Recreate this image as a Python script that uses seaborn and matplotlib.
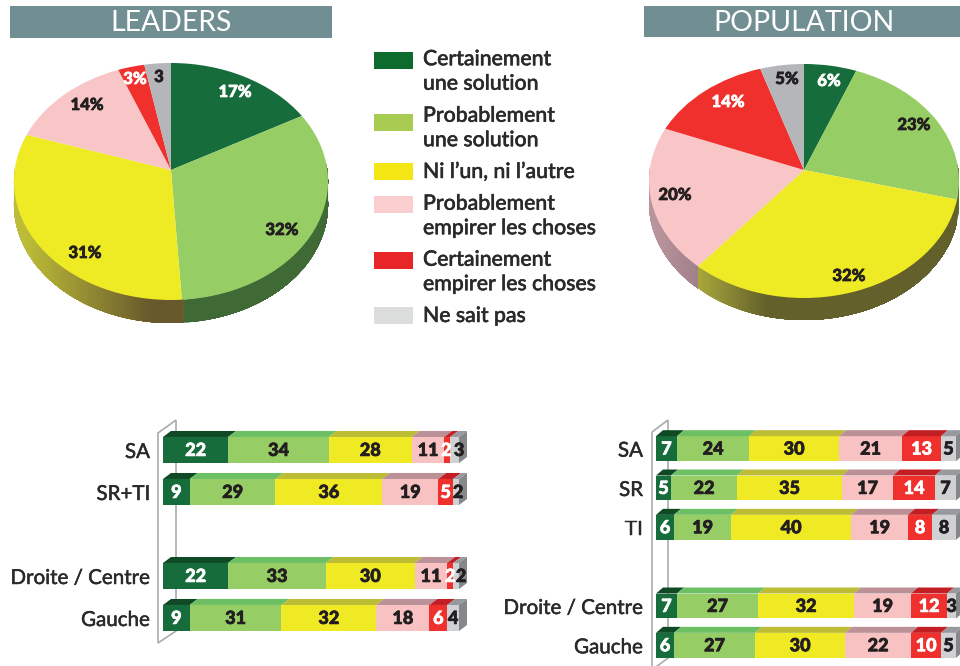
import matplotlib
matplotlib.use("Agg")
import numpy as np
import pandas as pd
import matplotlib.pyplot as plt
import seaborn as sns
import matplotlib.patheffects as pe
from matplotlib.patches import Polygon, Rectangle
from matplotlib.transforms import Transform
from matplotlib.colors import to_rgb

# Data
reponses = ["Certainement\nune solution", "Probablement\nune solution", "Ni l’un, ni l’autre",
            "Probablement\nempirer les choses", "Certainement\nempirer les choses", "Ne sait pas"]

pie_leaders = [17, 32, 31, 14, 3, 3]
pie_leaders_labels = ["17%", "32%", "31%", "14%", "3%", "3"]
pie_population = [6, 23, 32, 20, 14, 5]
pie_population_labels = ["6%", "23%", "32%", "20%", "14%", "5%"]

leaders_rows = ["SA", "SR+TI", "", "Droite / Centre", "Gauche"]
leaders_sa = [22, 34, 28, 11, 2, 3]
leaders_sr_ti = [9, 29, 36, 19, 5, 2]
leaders_droite = [22, 33, 30, 11, 2, 2]
leaders_gauche = [9, 31, 32, 18, 6, 4]

population_rows = ["SA", "SR", "TI", "", "Droite / Centre", "Gauche"]
population_sa = [7, 24, 30, 21, 13, 5]
population_sr = [5, 22, 35, 17, 14, 7]
population_ti = [6, 19, 40, 19, 8, 8]
population_droite = [7, 27, 32, 19, 12, 3]
population_gauche = [6, 27, 30, 22, 10, 5]

# Couleurs
front = ["#166c3a", "#96cd65", "#efea24", "#f9c2c2", "#f0302c", "#cfd1d3"]
top = ["#0f4a25", "#6dbf64", "#bcbd34", "#bb9097", "#c41e25", "#97999d"]
pie_colors = ["#166c3a", "#96cd65", "#eeea24", "#f9c6c8", "#f0302c", "#b4b6ba"]
legend_colors = ["#0d6b2d", "#a8cb52", "#f4e613", "#facdcf", "#e82628", "#dcdedd"]
text_colors = ["white", "#231f20", "#231f20", "#231f20", "white", "#231f20"]
ink = "#2a2a2c"
header = "#718f92"

sns.set_theme(style="white")
plt.rcParams['font.family'] = ['Lato', 'DejaVu Sans']

fig = plt.figure(figsize=(9.6, 6.66), dpi=100)
bg = fig.add_axes([0, 0, 1, 1])


def thick(col, w=0.35):
    # le texte de reference est plus gras que Lato
    return [pe.withStroke(linewidth=w, foreground=col)]


class Persp(Transform):
    # disque vu en perspective, le centre du camembert n'est pas celui de l'ellipse
    input_dims = 2
    output_dims = 2

    def __init__(self, cx, cy, r, up, down):
        super().__init__()
        self.cx, self.cy, self.r = cx, cy, r
        self.k = (down - up) / (down + up)
        self.s = up * (1 + self.k)

    def transform_non_affine(self, pts):
        pts = np.asarray(pts, dtype=float)
        w = 1 + self.k * pts[:, 1]
        return np.column_stack([self.cx + self.r * pts[:, 0] / w,
                                self.cy - self.s * pts[:, 1] / w])


def draw_pie(values, labels, label_pos, cx, cy, r, up, down, depth, walls):
    wedges, _ = bg.pie(values, colors=pie_colors, startangle=90, counterclock=False,
                       wedgeprops={"linewidth": 0})
    persp = Persp(cx, cy, r, up, down)
    # flanc du camembert, chaque bande recouvre la suite pour eviter les joints
    for wedge, wall in zip(wedges, walls):
        light, dark, x0, x1 = wall
        light, dark = np.array(to_rgb(light)), np.array(to_rgb(dark))
        angles = np.radians(np.arange(wedge.theta1, wedge.theta2 + 0.5, 1.0))
        angles = angles[np.sin(angles) <= 0.05]
        if len(angles) < 2:
            continue
        rim = persp.transform_non_affine(np.column_stack([np.cos(angles), np.sin(angles)]))
        for j in range(len(rim) - 1):
            t = np.clip((rim[j, 0] - x0) / (x1 - x0), 0, 1)
            c = light + (dark - light) * t
            part = rim[j:]
            bg.fill(np.r_[part[:, 0], part[::-1, 0]], np.r_[part[:, 1], part[::-1, 1] + depth],
                    color=c, linewidth=0, zorder=1)
    for wedge in wedges:
        wedge.set_transform(persp + bg.transData)
        wedge.set_zorder(2)
    for lab, pos, col in zip(labels, label_pos, text_colors):
        bg.text(pos[0], pos[1], lab, color=col, fontsize=12, fontweight="black",
                ha="center", va="center", zorder=3, path_effects=thick(col, 0.5))


draw_pie(pie_leaders, pie_leaders_labels,
         [(235, 92), (282, 230), (85, 253), (87, 105), (135, 79), (159, 77)],
         171, 170, 156.3, 107, 130, 23,
         [("#3f6a35", "#3f6a35", 0, 1), ("#3f6a35", "#3f6a35", 0, 1), ("#bdbc38", "#67592c", 25, 150),
          ("#b48f97", "#b48f97", 0, 1), ("#c41e25", "#c41e25", 0, 1), ("#97999d", "#97999d", 0, 1)])
draw_pie(pie_population, pie_population_labels,
         [(829, 81), (914, 125), (849, 276), (675, 195), (728, 102), (787, 79)],
         804, 170, 154.3, 106, 128, 22,
         [("#3f6a35", "#3f6a35", 0, 1), ("#5f6a30", "#5f6a30", 0, 1), ("#a8a73a", "#63602c", 698, 765),
          ("#b9949c", "#a07f88", 655, 700), ("#c41e25", "#c41e25", 0, 1), ("#97999d", "#97999d", 0, 1)])

bg.set_aspect("auto")
bg.set_xlim(0, 960)
bg.set_ylim(666, 0)
bg.set_axis_off()

# Bandeaux
bg.add_patch(Rectangle((10, 6), 322, 32, color=header, linewidth=0, zorder=1))
bg.add_patch(Rectangle((644, 6), 316, 31, color=header, linewidth=0, zorder=1))
bg.text(171, 23, "LEADERS", color="white", fontsize=20.4, ha="center", va="center", zorder=3)
bg.text(804, 23, "POPULATION", color="white", fontsize=20.4, ha="center", va="center", zorder=3)

# Legende
swatch_top = [52, 114, 163, 196, 252, 307]
legend_y = [71.5, 128, 172, 216, 272, 316]
for lab, col, st, ly in zip(reponses, legend_colors, swatch_top, legend_y):
    bg.add_patch(Rectangle((374, st), 39, 17, color=col, linewidth=0, zorder=1))
    bg.text(423, ly, lab, color=ink, fontsize=15.3, fontweight="medium", ha="left", va="center",
            linespacing=1.28, zorder=3, path_effects=thick(ink))

# Paroi grise derriere les barres
bg.add_patch(Polygon([(158, 433), (176, 420), (176, 631), (158, 643)], closed=True, fill=False,
                     edgecolor="#a9abae", linewidth=1.2, zorder=1))
bg.add_patch(Polygon([(652, 432), (668, 420), (668, 658), (652, 670)], closed=True, fill=False,
                     edgecolor="#a9abae", linewidth=1.2, zorder=1))


def draw_bars(rect, rows, table, bar_h, dx_px, nudge):
    ax = fig.add_axes(rect, zorder=2)
    ax.patch.set_visible(False)
    used = [r for r in rows if r != ""]
    df = pd.DataFrame(table, index=used)
    cum = df.cumsum(axis=1)
    cum.columns = [f"c{i}" for i in range(6)]
    cum["groupe"] = used
    # barres cumulees, de la plus longue a la plus courte
    for i in reversed(range(6)):
        sns.barplot(data=cum, x=f"c{i}", y="groupe", order=rows, color=front[i], saturation=1,
                    width=bar_h, linewidth=0, errorbar=None, ax=ax)
    ax.set_xlim(0, 100)
    ax.set_ylim(len(rows) - 0.5, -0.5)
    ax.set_xlabel("")
    ax.set_ylabel("")
    ax.set_xticks([])
    ax.tick_params(axis="y", length=0, pad=9.5, labelsize=14.8, labelcolor=ink)
    for t in ax.get_yticklabels():
        t.set_path_effects(thick(ink))
    sns.despine(ax=ax, left=True, bottom=True)

    px_x = rect[2] * 960 / 100
    px_y = rect[3] * 666 / len(rows)
    dx = dx_px / px_x
    dy = 6 / px_y
    for name in used:
        r = rows.index(name)
        start = 0
        vals = df.loc[name].values
        for i, v in enumerate(vals):
            y0 = r - bar_h / 2
            ax.add_patch(Polygon([(start, y0), (start + dx, y0 - dy), (start + v + dx, y0 - dy), (start + v, y0)],
                                 closed=True, facecolor=top[i], linewidth=0, clip_on=False, zorder=3))
            off = nudge.get((name, i), 0) / px_x
            ax.text(start + v / 2 + off, r + 0.01, str(v), color=text_colors[i], fontsize=13,
                    fontweight="black", ha="center", va="center", zorder=6, clip_on=False,
                    path_effects=thick(text_colors[i], 0.5))
            start += v
        # face de droite
        ax.add_patch(Polygon([(start, r + bar_h / 2), (start, y0), (start + dx, y0 - dy), (start + dx, r + bar_h / 2 - dy)],
                             closed=True, facecolor="#85878a", linewidth=0, clip_on=False, zorder=3))


draw_bars([163 / 960, 1 - 639 / 666, 296 / 960, 210 / 666], leaders_rows,
          [leaders_sa, leaders_sr_ti, leaders_droite, leaders_gauche], 0.62, 8,
          {("SA", 5): 4.5, ("SR+TI", 5): 2, ("Droite / Centre", 5): 5, ("SA", 4): -1})
draw_bars([656 / 960, 1 - 665 / 666, 300 / 960, 236 / 666], population_rows,
          [population_sa, population_sr, population_ti, population_droite, population_gauche], 0.635, 7,
          {})

fig.savefig("out.png", dpi=100)
